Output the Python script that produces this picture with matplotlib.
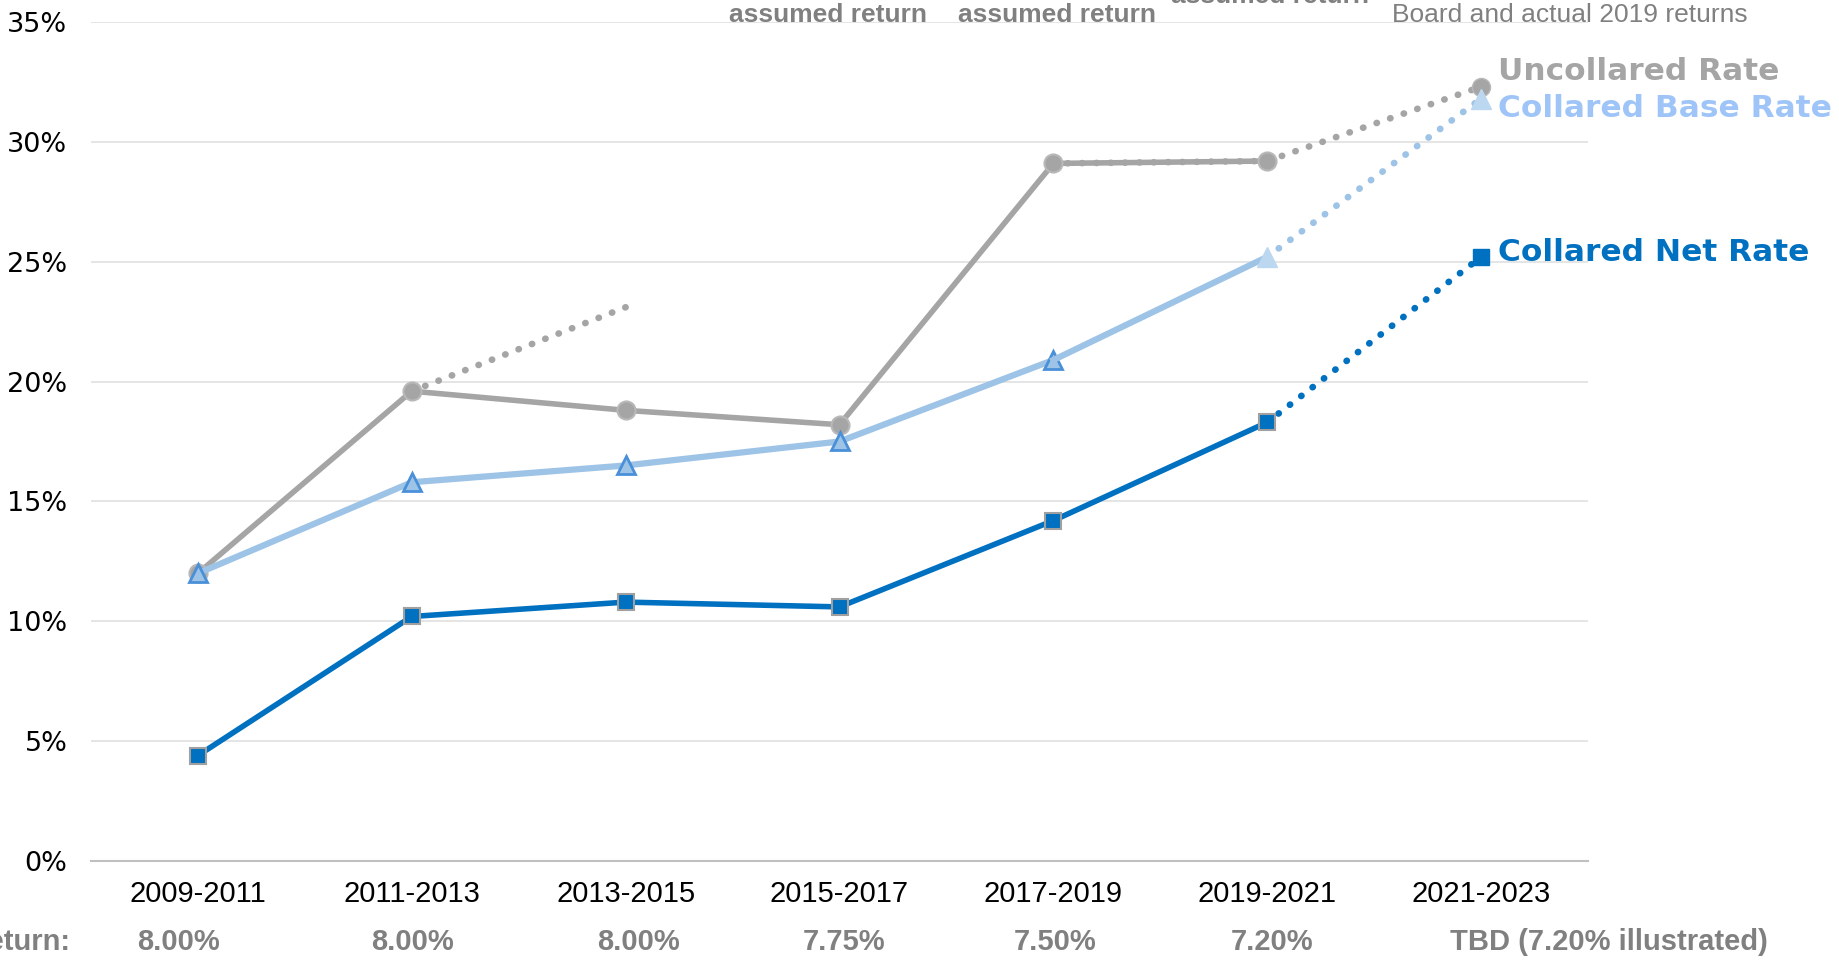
import numpy as np
import matplotlib
matplotlib.use("Agg")
import matplotlib.pyplot as plt
from matplotlib import font_manager

W, H = 1839, 963

periods = ['2009-2011', '2011-2013', '2013-2015', '2015-2017',
           '2017-2019', '2019-2021', '2021-2023']
assumed = ['8.00%', '8.00%', '8.00%', '7.75%', '7.50%', '7.20%',
           'TBD (7.20% illustrated)']
nan = np.nan
uncollared = [12.0, 19.6, 18.8, 18.2, 29.1, 29.2, nan]
uncollared_old = [nan, 19.6, 23.1, nan, nan, nan, nan]
uncollared_proj = [nan, nan, nan, nan, 29.1, 29.2, 32.3]
base = [12.0, 15.8, 16.5, 17.5, 20.9, 25.2, nan]
base_proj = [nan, nan, nan, nan, nan, 25.2, 31.8]
net = [4.4, 10.2, 10.8, 10.6, 14.2, 18.3, nan]
net_proj = [nan, nan, nan, nan, nan, 18.3, 25.2]
yticks = [0, 5, 10, 15, 20, 25, 30, 35]

names = {f.name for f in font_manager.fontManager.ttflist}
narrow = 'Liberation Sans Narrow' if 'Liberation Sans Narrow' in names else 'Liberation Sans'

GRAY = '#a5a5a5'
LBLUE = '#9dc3e6'
BLUE = '#0070c0'
TXTGRAY = '#808080'

fig = plt.figure(figsize=(W / 100, H / 100), dpi=100)
ax = fig.add_axes([91 / W, 1 - 861 / H, (1588 - 91) / W, (861 - 22) / H])
x = np.arange(len(periods))
dot = (0, (0.05, 2.1))

# uncollared
ax.plot(x, uncollared_old, color=GRAY, lw=4.8, ls=dot, dash_capstyle='round', zorder=2)
ax.plot(x, uncollared_proj, color=GRAY, lw=4.8, ls=dot, dash_capstyle='round', zorder=2)
ax.plot(x, uncollared, color=GRAY, lw=4, marker='o', ms=13,
        mfc=GRAY, mec='#b8b8b8', mew=1.5, zorder=3)
ax.plot(x[6], uncollared_proj[6], 'o', color=GRAY, ms=13, mec='#b8b8b8', zorder=3)

# collared base
ax.plot(x, base_proj, color=LBLUE, lw=4.8, ls=dot, dash_capstyle='round', zorder=4)
ax.plot(x[:5], base[:5], color=LBLUE, lw=4.5, marker='^', ms=13,
        mfc='#9dc3e6', mec='#4a90d9', mew=2, zorder=5)
ax.plot(x[4:6], base[4:6], color=LBLUE, lw=4.5, zorder=5)
ax.plot(x[5:], [base[5], base_proj[6]], ls='none', marker='^', ms=14,
        mfc='#bcd7f0', mec='#bcd7f0', zorder=5)

# collared net
ax.plot(x, net_proj, color=BLUE, lw=4.8, ls=dot, dash_capstyle='round', zorder=6)
ax.plot(x, net, color=BLUE, lw=4, marker='s', ms=12,
        mfc=BLUE, mec='#a0a0a0', mew=1.5, zorder=7)
ax.plot(x[6], net_proj[6], 's', color=BLUE, ms=11, zorder=7)

# series labels
lab = dict(fontsize=22.5, fontweight='bold', family='DejaVu Sans',
           textcoords='offset points', va='center', annotation_clip=False)
ax.annotate('Uncollared Rate', xy=(6, uncollared_proj[6]), xytext=(12, 11), color=GRAY, **lab)
ax.annotate('Collared Base Rate', xy=(6, base_proj[6]), xytext=(12, -7), color='#9fc5f8', **lab)
ax.annotate('Collared Net Rate', xy=(6, net_proj[6]), xytext=(12, 3), color=BLUE, **lab)

ax.set_xlim(-0.5, 6.5)
ax.set_ylim(0, 35)
ax.set_yticks(yticks, [f'{v}%' for v in yticks], fontsize=19.5, family='DejaVu Sans')
ax.set_xticks(x, periods, fontsize=21, family=narrow)
ax.tick_params(axis='both', length=0)
ax.tick_params(axis='y', pad=17)
ax.tick_params(axis='x', pad=14)
ax.grid(axis='y', color='#e0e0e0', lw=1.2)
ax.set_axisbelow(True)
for s in ['top', 'right', 'left']:
    ax.spines[s].set_visible(False)
ax.spines['bottom'].set_color('#c0c0c0')
ax.spines['bottom'].set_linewidth(1.5)

# assumed return row
row_x = [178, 412, 639, 844, 1055, 1272, 1609]
for px, s in zip(row_x, assumed):
    fig.text(px / W, 1 - 942 / H, s, ha='center', va='center', fontsize=21,
             fontweight='bold', color=TXTGRAY, family=narrow)
fig.text(70 / W, 1 - 942 / H, 'Assumed return:', ha='right', va='center',
         fontsize=21, fontweight='bold', color=TXTGRAY, family=narrow)

# annotations above (clipped by figure edge, as in the source)
top = dict(ha='center', va='baseline', fontsize=19, color=TXTGRAY, family=narrow)
fig.text(828 / W, 1 - 22 / H, 'assumed return', fontweight='bold', **top)
fig.text(1057 / W, 1 - 22 / H, 'assumed return', fontweight='bold', **top)
fig.text(1270 / W, 1 - 3 / H, 'assumed return', fontweight='bold', **top)
fig.text(1570 / W, 1 - 22 / H, 'Board and actual 2019 returns', **top)

fig.savefig('out.png', dpi=100)
